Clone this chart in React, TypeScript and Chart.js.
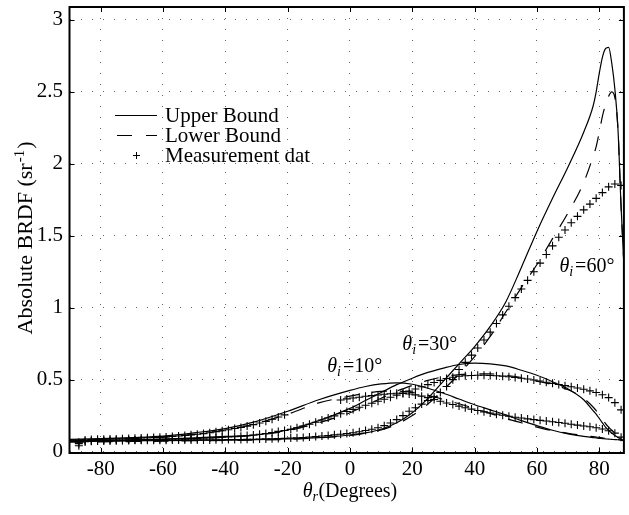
import React, { useEffect, useRef } from "react";
import { Chart, registerables } from "chart.js";

Chart.register(...registerables);

const FONT = "'Liberation Serif', 'Times New Roman', Times, serif";

// ---------- data ----------
const xTicks = [-80, -60, -40, -20, 0, 20, 40, 60, 80];
const yTicks = [0, 0.5, 1, 1.5, 2, 2.5, 3];

const curveX = [-90, -80, -70, -60, -50, -40, -30, -20, -10, 0, 5, 10, 15, 20, 25, 30, 35, 40, 45, 50, 55, 60, 65, 70, 75, 78, 79, 80, 81, 82, 83, 84, 85, 86, 87, 87.9];

const upper10 = [0.085, 0.09, 0.097, 0.107, 0.13, 0.16, 0.21, 0.28, 0.36, 0.425, 0.452, 0.47, 0.478, 0.468, 0.44, 0.405, 0.365, 0.325, 0.29, 0.255, 0.215, 0.18, 0.148, 0.123, 0.105, 0.097, 0.095, 0.092, 0.09, 0.088, 0.086, 0.085, 0.083, 0.082, 0.08, 0.078];
const lower10 = [0.08, 0.085, 0.092, 0.1, 0.12, 0.148, 0.195, 0.26, 0.338, 0.385, 0.405, 0.418, 0.42, 0.41, 0.39, 0.362, 0.332, 0.3, 0.265, 0.23, 0.2, 0.17, 0.145, 0.127, 0.112, 0.104, 0.101, 0.098, 0.095, 0.092, 0.09, 0.088, 0.086, 0.084, 0.081, 0.078];

const upper30 = [0.075, 0.078, 0.082, 0.087, 0.095, 0.105, 0.115, 0.15, 0.215, 0.3, 0.355, 0.41, 0.465, 0.51, 0.55, 0.58, 0.605, 0.615, 0.61, 0.595, 0.565, 0.53, 0.485, 0.435, 0.36, 0.285, 0.26, 0.23, 0.2, 0.17, 0.148, 0.128, 0.112, 0.098, 0.086, 0.075];
const lower30 = [0.072, 0.075, 0.078, 0.083, 0.09, 0.1, 0.115, 0.145, 0.2, 0.27, 0.32, 0.37, 0.42, 0.46, 0.495, 0.52, 0.535, 0.54, 0.54, 0.53, 0.515, 0.49, 0.465, 0.43, 0.37, 0.31, 0.285, 0.255, 0.225, 0.195, 0.17, 0.148, 0.128, 0.11, 0.094, 0.08];

const upper60 = [0.07, 0.072, 0.074, 0.076, 0.078, 0.08, 0.083, 0.088, 0.097, 0.115, 0.13, 0.155, 0.2, 0.27, 0.37, 0.49, 0.61, 0.73, 0.87, 1.04, 1.28, 1.53, 1.76, 1.98, 2.22, 2.4, 2.5, 2.63, 2.74, 2.8, 2.81, 2.7, 2.52, 2.24, 1.7, 1.3];
const lower60 = [0.065, 0.068, 0.07, 0.072, 0.075, 0.077, 0.08, 0.085, 0.095, 0.112, 0.128, 0.15, 0.19, 0.25, 0.33, 0.43, 0.54, 0.66, 0.8, 0.97, 1.14, 1.3, 1.48, 1.66, 1.87, 2.05, 2.12, 2.22, 2.33, 2.41, 2.47, 2.5, 2.46, 2.24, 1.7, 1.3];

const measX = [-87, -85, -83, -81, -79, -77, -75, -73, -71, -69, -67, -65, -63, -61, -59, -57, -55, -53, -51, -49, -47, -45, -43, -41, -39, -37, -35, -33, -31, -29, -27, -25, -23, -21, -19, -17, -15, -13, -11, -9, -7, -5, -3, -1, 1, 3, 5, 7, 9, 11, 13, 15, 17, 19, 21, 23, 25, 27, 29, 31, 33, 35, 37, 39, 41, 43, 45, 47, 49, 51, 53, 55, 57, 59, 61, 63, 65, 67, 69, 71, 73, 75, 77, 79, 81, 83, 85, 87];

const meas10 = [0.065, 0.08, 0.083, 0.085, 0.086, 0.087, 0.088, 0.089, 0.09, 0.092, 0.094, 0.096, 0.098, 0.1, 0.102, 0.105, 0.108, 0.112, 0.116, 0.12, 0.125, 0.131, 0.138, 0.145, 0.152, 0.16, 0.168, 0.177, 0.187, 0.198, 0.21, 0.225, 0.24, 0.255, null, null, null, null, null, null, null, null, 0.358, 0.366, 0.372, 0.378, 0.384, 0.389, 0.393, 0.398, 0.402, 0.405, 0.404, 0.4, 0.394, 0.385, 0.375, 0.362, 0.35, 0.338, 0.327, 0.316, 0.305, 0.295, 0.285, 0.276, 0.268, 0.26, 0.252, 0.245, 0.239, 0.233, 0.227, 0.222, 0.217, 0.212, 0.207, 0.202, 0.197, 0.19, 0.184, 0.178, 0.172, 0.165, 0.157, 0.145, 0.128, 0.1];

const meas30 = [0.055, 0.07, 0.073, 0.075, 0.076, 0.077, 0.078, 0.079, 0.08, 0.081, 0.082, 0.083, 0.084, 0.085, 0.086, 0.087, 0.088, 0.089, 0.09, 0.091, 0.093, 0.095, 0.097, 0.099, 0.101, 0.104, 0.107, 0.111, 0.115, 0.12, 0.126, 0.133, 0.14, 0.146, 0.154, 0.165, 0.177, 0.19, 0.204, 0.219, 0.233, 0.248, 0.263, 0.278, 0.293, 0.308, 0.322, 0.336, 0.35, 0.364, 0.378, 0.392, 0.406, 0.42, 0.435, 0.45, 0.465, 0.48, 0.495, 0.508, 0.517, 0.523, 0.527, 0.529, 0.53, 0.53, 0.529, 0.527, 0.524, 0.52, 0.515, 0.51, 0.504, 0.497, 0.49, 0.482, 0.474, 0.466, 0.458, 0.45, 0.442, 0.433, 0.422, 0.41, 0.395, 0.375, 0.34, 0.29];

const meas60 = [0.04, 0.068, 0.072, 0.074, 0.075, 0.076, 0.076, 0.077, 0.077, 0.078, 0.078, 0.078, 0.079, 0.079, 0.079, 0.08, 0.08, 0.08, 0.08, 0.081, 0.081, 0.081, 0.082, 0.082, 0.083, 0.083, 0.084, 0.085, 0.086, 0.087, 0.088, 0.089, 0.09, 0.092, 0.094, 0.096, 0.098, 0.101, 0.104, 0.108, 0.112, 0.116, 0.12, 0.125, 0.131, 0.138, 0.146, 0.155, 0.166, 0.18, 0.198, 0.222, 0.25, 0.28, 0.305, 0.33, 0.355, 0.38, 0.41, 0.452, 0.5, 0.57, 0.62, 0.67, 0.72, 0.775, 0.83, 0.89, 0.95, 1.01, 1.07, 1.13, 1.19, 1.25, 1.31, 1.37, 1.43, 1.49, 1.54, 1.59, 1.635, 1.68, 1.72, 1.76, 1.8, 1.84, 1.86, 1.85];

const legendLabels = ["Upper Bound", "Lower Bound", "Measurement dat"];
const angleLabels = ["10", "30", "60"];
const angleLabelAnchors = [
  [-7.3, 0.554],
  [16.8, 0.707],
  [67.2, 1.249],
];
const xTitle = "(Degrees)";
const yTitle = "Absolute BRDF (sr";

// ---------- helpers ----------
function pts(xs: number[], ys: (number | null)[]) {
  return xs.map((x, i) => ({ x, y: ys[i] }));
}

function drawTheta(ctx: CanvasRenderingContext2D, x: number, y: number, sub: string, rest: string, size: number, subGap: number) {
  ctx.textAlign = "left";
  ctx.textBaseline = "alphabetic";
  ctx.font = `italic ${size}px ${FONT}`;
  ctx.fillText("\u03b8", x, y);
  let w = ctx.measureText("\u03b8").width;
  const ss = Math.round(size * 0.7);
  ctx.font = `italic ${ss}px ${FONT}`;
  ctx.fillText(sub, x + w, y + size * 0.22);
  w += ctx.measureText(sub).width + subGap;
  ctx.font = `${size}px ${FONT}`;
  ctx.fillText(rest, x + w, y);
  return w + ctx.measureText(rest).width;
}

function thetaWidth(ctx: CanvasRenderingContext2D, sub: string, rest: string, size: number, subGap: number) {
  ctx.font = `italic ${size}px ${FONT}`;
  let w = ctx.measureText("\u03b8").width;
  ctx.font = `italic ${Math.round(size * 0.7)}px ${FONT}`;
  w += ctx.measureText(sub).width + subGap;
  ctx.font = `${size}px ${FONT}`;
  return w + ctx.measureText(rest).width;
}

const overlay = {
  id: "overlay",
  afterDraw(chart: any) {
    const { ctx, chartArea: a, scales } = chart;
    const xs = scales.x;
    const ys = scales.y;
    ctx.save();
    ctx.fillStyle = "#000";
    ctx.strokeStyle = "#000";
    ctx.setLineDash([]);

    // box
    ctx.lineWidth = 2;
    ctx.strokeRect(a.left, a.top, a.right - a.left, a.bottom - a.top);

    // inward ticks
    ctx.lineWidth = 1;
    ctx.beginPath();
    xTicks.forEach((v) => {
      const px = Math.round(xs.getPixelForValue(v)) + 0.5;
      ctx.moveTo(px, a.bottom);
      ctx.lineTo(px, a.bottom - 5);
      ctx.moveTo(px, a.top);
      ctx.lineTo(px, a.top + 5);
    });
    yTicks.forEach((v) => {
      const py = Math.round(ys.getPixelForValue(v)) + 0.5;
      ctx.moveTo(a.left, py);
      ctx.lineTo(a.left + 5, py);
      ctx.moveTo(a.right, py);
      ctx.lineTo(a.right - 5, py);
    });
    ctx.stroke();

    // legend
    const lx0 = 115, lx1 = 157, ltx = 165;
    const rows = [115.5, 135.5, 155.5];
    ctx.lineWidth = 1.2;
    ctx.beginPath();
    ctx.moveTo(lx0, rows[0]);
    ctx.lineTo(lx1, rows[0]);
    ctx.stroke();
    ctx.setLineDash([15, 14]);
    ctx.beginPath();
    ctx.moveTo(lx0 + 2, rows[1]);
    ctx.lineTo(lx1, rows[1]);
    ctx.stroke();
    ctx.setLineDash([]);
    ctx.lineWidth = 1;
    ctx.beginPath();
    const cx = 136.5, cy = rows[2];
    ctx.moveTo(cx - 3.5, cy);
    ctx.lineTo(cx + 3.5, cy);
    ctx.moveTo(cx, cy - 3.5);
    ctx.lineTo(cx, cy + 3.5);
    ctx.stroke();
    ctx.font = `21px ${FONT}`;
    ctx.textAlign = "left";
    ctx.textBaseline = "alphabetic";
    legendLabels.forEach((t, i) => ctx.fillText(t, ltx, rows[i] + 6));

    // angle annotations
    angleLabels.forEach((ang, i) => {
      const [dx, dy] = angleLabelAnchors[i];
      drawTheta(ctx, xs.getPixelForValue(dx), ys.getPixelForValue(dy), "i", "=" + ang + "\u00b0", 20, 2);
    });

    // x title
    const tw = thetaWidth(ctx, "r", xTitle, 20, 0.5);
    const xc = xs.getPixelForValue(0);
    drawTheta(ctx, xc - tw / 2, 497, "r", xTitle, 20, 0.5);

    // y title (rotated)
    ctx.save();
    ctx.translate(32, 238);
    ctx.rotate(-Math.PI / 2);
    ctx.font = `22px ${FONT}`;
    const w1 = ctx.measureText(yTitle).width;
    ctx.font = `15px ${FONT}`;
    const w2 = ctx.measureText("-1").width;
    ctx.font = `22px ${FONT}`;
    const w3 = ctx.measureText(")").width;
    const total = w1 + w2 + w3 + 2;
    let sx = -total / 2;
    ctx.textAlign = "left";
    ctx.fillText(yTitle, sx, 0);
    sx += w1 + 1;
    ctx.font = `15px ${FONT}`;
    ctx.fillText("-1", sx, -8);
    sx += w2 + 1;
    ctx.font = `22px ${FONT}`;
    ctx.fillText(")", sx, 0);
    ctx.restore();

    ctx.restore();
  },
};

export default function App() {
  const ref = useRef<HTMLCanvasElement | null>(null);

  useEffect(() => {
    if (!ref.current) return;
    const solid = (d: number[]) => ({
      data: pts(curveX, d),
      borderColor: "#000",
      borderWidth: 1.2,
      pointRadius: 0,
      fill: false,
      cubicInterpolationMode: "monotone" as const,
    });
    const dashed = (d: number[]) => ({
      ...solid(d),
      borderDash: [15, 13],
    });
    const meas = (d: (number | null)[]) => ({
      data: pts(measX, d),
      showLine: false,
      pointStyle: "cross" as const,
      pointRadius: 4,
      pointBorderWidth: 1.1,
      pointBorderColor: "#000",
      borderColor: "#000",
      backgroundColor: "#000",
    });

    const tickFont = { family: FONT, size: 21 };

    const chart = new Chart(ref.current, {
      type: "line",
      data: {
        datasets: [
          solid(upper10),
          dashed(lower10),
          solid(upper30),
          dashed(lower30),
          solid(upper60),
          dashed(lower60),
          meas(meas10),
          meas(meas30),
          meas(meas60),
        ] as any,
      },
      options: {
        animation: false,
        responsive: false,
        events: [],
        layout: { padding: { top: 7, left: 0, right: 0, bottom: 0 } },
        plugins: {
          legend: { display: false },
          tooltip: { enabled: false },
        },
        scales: {
          x: {
            type: "linear",
            min: -90,
            max: 87.9,
            afterBuildTicks: (s: any) => {
              s.ticks = xTicks.map((v) => ({ value: v }));
            },
            afterFit: (s: any) => {
              s.height = 62;
              s.paddingLeft = 0;
              s.paddingRight = 0;
            },
            ticks: {
              autoSkip: false,
              maxRotation: 0,
              padding: 4,
              color: "#000",
              font: tickFont,
              callback: (v: any) => String(v),
            },
            grid: { color: "rgba(0,0,0,0.6)", lineWidth: 1, drawTicks: false },
            border: { display: false, dash: [1, 10] },
          },
          y: {
            type: "linear",
            min: -0.01,
            max: 3.09,
            afterBuildTicks: (s: any) => {
              s.ticks = yTicks.map((v) => ({ value: v }));
            },
            afterFit: (s: any) => {
              s.width = 69.5;
              s.paddingTop = 0;
              s.paddingBottom = 0;
            },
            ticks: {
              padding: 6.5,
              color: "#000",
              font: tickFont,
              callback: (v: any) => String(v),
            },
            grid: { color: "rgba(0,0,0,0.6)", lineWidth: 1, drawTicks: false },
            border: { display: false, dash: [1, 10] },
          },
        },
      },
      plugins: [overlay],
    });
    return () => chart.destroy();
  }, []);

  return (
    <div style={{ position: "fixed", left: 0, top: 0, width: 629, height: 515, background: "#fff" }}>
      <canvas ref={ref} width={629} height={515} style={{ display: "block" }} />
    </div>
  );
}
